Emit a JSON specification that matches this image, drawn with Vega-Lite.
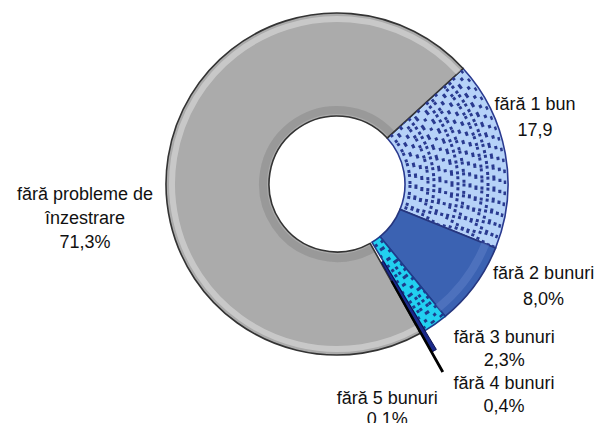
{
  "$schema": "https://vega.github.io/schema/vega-lite/v6.json",
  "width": 500,
  "height": 340,
  "autosize": "none",
  "padding": {"left": 87, "top": 14, "right": 19, "bottom": 69},
  "background": "white",
  "view": {"stroke": null},
  "config": {"text": {"font": "Liberation Sans", "fontSize": 18, "lineHeight": 24, "align": "center", "baseline": "middle", "lineBreak": "\n", "color": "#111111"}},
  "data": {"values": [
    {"idx": 1, "cat": "fără 1 bun", "value": 17.9, "label": "fără 1 bun\n17,9"},
    {"idx": 2, "cat": "fără 2 bunuri", "value": 8.0, "label": "fără 2 bunuri\n8,0%"},
    {"idx": 3, "cat": "fără 3 bunuri", "value": 2.3, "label": "fără 3 bunuri\n2,3%"},
    {"idx": 4, "cat": "fără 4 bunuri", "value": 0.4, "label": "fără 4 bunuri\n0,4%"},
    {"idx": 5, "cat": "fără 5 bunuri", "value": 0.1, "label": "fără 5 bunuri\n0.1%"},
    {"idx": 6, "cat": "fără probleme de înzestrare", "value": 71.3, "label": "fără probleme de\nînzestrare\n71,3%"}
  ]},
  "transform": [{"stack": "value", "groupby": [], "sort": [{"field": "idx", "order": "ascending"}], "as": ["v0", "v1"]}],
  "encoding": {
    "theta": {"field": "v0", "type": "quantitative", "scale": {"domain": [0, 100], "range": [0.829, 7.1122]}},
    "theta2": {"field": "v1"}
  },
  "layer": [
    {
      "transform": [{"filter": "datum.idx != 4 && datum.idx != 5"}],
      "mark": {"type": "arc", "innerRadius": 68, "outerRadius": 171, "strokeWidth": 1.6},
      "encoding": {
        "fill": {"field": "cat", "type": "nominal", "legend": null, "scale": {"domain": ["fără 1 bun", "fără 2 bunuri", "fără 3 bunuri", "fără probleme de înzestrare"], "range": ["#B6D2F8", "#3B62B2", "#22D0F0", "#ABABAB"]}},
        "stroke": {"field": "cat", "type": "nominal", "legend": null, "scale": {"domain": ["fără 1 bun", "fără 2 bunuri", "fără 3 bunuri", "fără probleme de înzestrare"], "range": ["#2A3A90", "#26367E", "#1F3C8C", "#333333"]}}
      }
    },
    {
      "transform": [{"filter": "datum.idx == 6"}],
      "mark": {"type": "arc", "innerRadius": 165, "outerRadius": 165, "fillOpacity": 0, "stroke": "#FFFFFF", "strokeWidth": 6, "strokeOpacity": 0.35}
    },
    {
      "transform": [{"filter": "datum.idx == 6"}],
      "mark": {"type": "arc", "innerRadius": 74, "outerRadius": 74, "fillOpacity": 0, "stroke": "#333333", "strokeWidth": 8, "strokeOpacity": 0.15}
    },
    {
      "transform": [{"filter": "datum.idx == 2"}],
      "mark": {"type": "arc", "innerRadius": 160, "outerRadius": 160, "fillOpacity": 0, "stroke": "#5A7CC4", "strokeWidth": 8, "strokeOpacity": 0.6}
    },
    {"transform": [{"filter": "datum.idx == 1 || datum.idx == 3"}], "mark": {"type": "arc", "innerRadius": 73, "outerRadius": 73, "fillOpacity": 0, "strokeWidth": 3, "strokeDash": [3, 8], "strokeDashOffset": 0}, "encoding": {"stroke": {"field": "cat", "type": "nominal", "legend": null, "scale": {"domain": ["fără 1 bun", "fără 3 bunuri"], "range": ["#0A1ADA", "#0634A8"]}}}},
    {"transform": [{"filter": "datum.idx == 1 || datum.idx == 3"}], "mark": {"type": "arc", "innerRadius": 79, "outerRadius": 79, "fillOpacity": 0, "strokeWidth": 3, "strokeDash": [3, 8], "strokeDashOffset": 5.5}, "encoding": {"stroke": {"field": "cat", "type": "nominal", "legend": null, "scale": {"domain": ["fără 1 bun", "fără 3 bunuri"], "range": ["#0A1ADA", "#0634A8"]}}}},
    {"transform": [{"filter": "datum.idx == 1 || datum.idx == 3"}], "mark": {"type": "arc", "innerRadius": 85, "outerRadius": 85, "fillOpacity": 0, "strokeWidth": 3, "strokeDash": [3, 8], "strokeDashOffset": 0}, "encoding": {"stroke": {"field": "cat", "type": "nominal", "legend": null, "scale": {"domain": ["fără 1 bun", "fără 3 bunuri"], "range": ["#0A1ADA", "#0634A8"]}}}},
    {"transform": [{"filter": "datum.idx == 1 || datum.idx == 3"}], "mark": {"type": "arc", "innerRadius": 91, "outerRadius": 91, "fillOpacity": 0, "strokeWidth": 3, "strokeDash": [3, 8], "strokeDashOffset": 5.5}, "encoding": {"stroke": {"field": "cat", "type": "nominal", "legend": null, "scale": {"domain": ["fără 1 bun", "fără 3 bunuri"], "range": ["#0A1ADA", "#0634A8"]}}}},
    {"transform": [{"filter": "datum.idx == 1 || datum.idx == 3"}], "mark": {"type": "arc", "innerRadius": 97, "outerRadius": 97, "fillOpacity": 0, "strokeWidth": 3, "strokeDash": [3, 8], "strokeDashOffset": 0}, "encoding": {"stroke": {"field": "cat", "type": "nominal", "legend": null, "scale": {"domain": ["fără 1 bun", "fără 3 bunuri"], "range": ["#0A1ADA", "#0634A8"]}}}},
    {"transform": [{"filter": "datum.idx == 1 || datum.idx == 3"}], "mark": {"type": "arc", "innerRadius": 103, "outerRadius": 103, "fillOpacity": 0, "strokeWidth": 3, "strokeDash": [3, 8], "strokeDashOffset": 5.5}, "encoding": {"stroke": {"field": "cat", "type": "nominal", "legend": null, "scale": {"domain": ["fără 1 bun", "fără 3 bunuri"], "range": ["#0A1ADA", "#0634A8"]}}}},
    {"transform": [{"filter": "datum.idx == 1 || datum.idx == 3"}], "mark": {"type": "arc", "innerRadius": 109, "outerRadius": 109, "fillOpacity": 0, "strokeWidth": 3, "strokeDash": [3, 8], "strokeDashOffset": 0}, "encoding": {"stroke": {"field": "cat", "type": "nominal", "legend": null, "scale": {"domain": ["fără 1 bun", "fără 3 bunuri"], "range": ["#0A1ADA", "#0634A8"]}}}},
    {"transform": [{"filter": "datum.idx == 1 || datum.idx == 3"}], "mark": {"type": "arc", "innerRadius": 115, "outerRadius": 115, "fillOpacity": 0, "strokeWidth": 3, "strokeDash": [3, 8], "strokeDashOffset": 5.5}, "encoding": {"stroke": {"field": "cat", "type": "nominal", "legend": null, "scale": {"domain": ["fără 1 bun", "fără 3 bunuri"], "range": ["#0A1ADA", "#0634A8"]}}}},
    {"transform": [{"filter": "datum.idx == 1 || datum.idx == 3"}], "mark": {"type": "arc", "innerRadius": 121, "outerRadius": 121, "fillOpacity": 0, "strokeWidth": 3, "strokeDash": [3, 8], "strokeDashOffset": 0}, "encoding": {"stroke": {"field": "cat", "type": "nominal", "legend": null, "scale": {"domain": ["fără 1 bun", "fără 3 bunuri"], "range": ["#0A1ADA", "#0634A8"]}}}},
    {"transform": [{"filter": "datum.idx == 1 || datum.idx == 3"}], "mark": {"type": "arc", "innerRadius": 127, "outerRadius": 127, "fillOpacity": 0, "strokeWidth": 3, "strokeDash": [3, 8], "strokeDashOffset": 5.5}, "encoding": {"stroke": {"field": "cat", "type": "nominal", "legend": null, "scale": {"domain": ["fără 1 bun", "fără 3 bunuri"], "range": ["#0A1ADA", "#0634A8"]}}}},
    {"transform": [{"filter": "datum.idx == 1 || datum.idx == 3"}], "mark": {"type": "arc", "innerRadius": 133, "outerRadius": 133, "fillOpacity": 0, "strokeWidth": 3, "strokeDash": [3, 8], "strokeDashOffset": 0}, "encoding": {"stroke": {"field": "cat", "type": "nominal", "legend": null, "scale": {"domain": ["fără 1 bun", "fără 3 bunuri"], "range": ["#0A1ADA", "#0634A8"]}}}},
    {"transform": [{"filter": "datum.idx == 1 || datum.idx == 3"}], "mark": {"type": "arc", "innerRadius": 139, "outerRadius": 139, "fillOpacity": 0, "strokeWidth": 3, "strokeDash": [3, 8], "strokeDashOffset": 5.5}, "encoding": {"stroke": {"field": "cat", "type": "nominal", "legend": null, "scale": {"domain": ["fără 1 bun", "fără 3 bunuri"], "range": ["#0A1ADA", "#0634A8"]}}}},
    {"transform": [{"filter": "datum.idx == 1 || datum.idx == 3"}], "mark": {"type": "arc", "innerRadius": 145, "outerRadius": 145, "fillOpacity": 0, "strokeWidth": 3, "strokeDash": [3, 8], "strokeDashOffset": 0}, "encoding": {"stroke": {"field": "cat", "type": "nominal", "legend": null, "scale": {"domain": ["fără 1 bun", "fără 3 bunuri"], "range": ["#0A1ADA", "#0634A8"]}}}},
    {"transform": [{"filter": "datum.idx == 1 || datum.idx == 3"}], "mark": {"type": "arc", "innerRadius": 151, "outerRadius": 151, "fillOpacity": 0, "strokeWidth": 3, "strokeDash": [3, 8], "strokeDashOffset": 5.5}, "encoding": {"stroke": {"field": "cat", "type": "nominal", "legend": null, "scale": {"domain": ["fără 1 bun", "fără 3 bunuri"], "range": ["#0A1ADA", "#0634A8"]}}}},
    {"transform": [{"filter": "datum.idx == 1 || datum.idx == 3"}], "mark": {"type": "arc", "innerRadius": 157, "outerRadius": 157, "fillOpacity": 0, "strokeWidth": 3, "strokeDash": [3, 8], "strokeDashOffset": 0}, "encoding": {"stroke": {"field": "cat", "type": "nominal", "legend": null, "scale": {"domain": ["fără 1 bun", "fără 3 bunuri"], "range": ["#0A1ADA", "#0634A8"]}}}},
    {"transform": [{"filter": "datum.idx == 1 || datum.idx == 3"}], "mark": {"type": "arc", "innerRadius": 163, "outerRadius": 163, "fillOpacity": 0, "strokeWidth": 3, "strokeDash": [3, 8], "strokeDashOffset": 5.5}, "encoding": {"stroke": {"field": "cat", "type": "nominal", "legend": null, "scale": {"domain": ["fără 1 bun", "fără 3 bunuri"], "range": ["#0A1ADA", "#0634A8"]}}}},
    {"transform": [{"filter": "datum.idx == 1 || datum.idx == 3"}], "mark": {"type": "arc", "innerRadius": 168, "outerRadius": 168, "fillOpacity": 0, "strokeWidth": 2.5, "strokeDash": [3, 8], "strokeDashOffset": 0}, "encoding": {"stroke": {"field": "cat", "type": "nominal", "legend": null, "scale": {"domain": ["fără 1 bun", "fără 3 bunuri"], "range": ["#0A1ADA", "#0634A8"]}}}},
    {
      "transform": [{"filter": "datum.idx == 4"}],
      "mark": {"type": "arc", "innerRadius": 90, "outerRadius": 193, "fill": "#1B2A8A", "stroke": "#0A1050", "strokeWidth": 1}
    },
    {
      "transform": [{"filter": "datum.idx == 5"}],
      "mark": {"type": "arc", "innerRadius": 112, "outerRadius": 215, "fill": "#000000", "stroke": "#000000", "strokeWidth": 1.5}
    },
    {
      "transform": [{"filter": "datum.idx == 1"}],
      "mark": {"type": "text", "radius": 171, "dx": 72, "dy": 37, "lineHeight": 26},
      "encoding": {"text": {"field": "label"}}
    },
    {
      "transform": [{"filter": "datum.idx == 2"}],
      "mark": {"type": "text", "radius": 171, "dx": 48, "dy": 26, "lineHeight": 26},
      "encoding": {"text": {"field": "label"}}
    },
    {
      "transform": [{"filter": "datum.idx == 3"}],
      "mark": {"type": "text", "radius": 171, "dx": 59, "dy": 22, "lineHeight": 22.5},
      "encoding": {"text": {"field": "label"}}
    },
    {
      "transform": [{"filter": "datum.idx == 4"}],
      "mark": {"type": "text", "radius": 171, "dx": 79, "dy": 53, "lineHeight": 23},
      "encoding": {"text": {"field": "label"}}
    },
    {
      "transform": [{"filter": "datum.idx == 5"}],
      "mark": {"type": "text", "radius": 171, "dx": -34, "dy": 66, "lineHeight": 21.5},
      "encoding": {"text": {"field": "label"}}
    },
    {
      "transform": [{"filter": "datum.idx == 6"}],
      "mark": {"type": "text", "radius": 0, "dx": -252, "dy": 10.5, "lineHeight": 24},
      "encoding": {"text": {"field": "label"}}
    }
  ]
}
